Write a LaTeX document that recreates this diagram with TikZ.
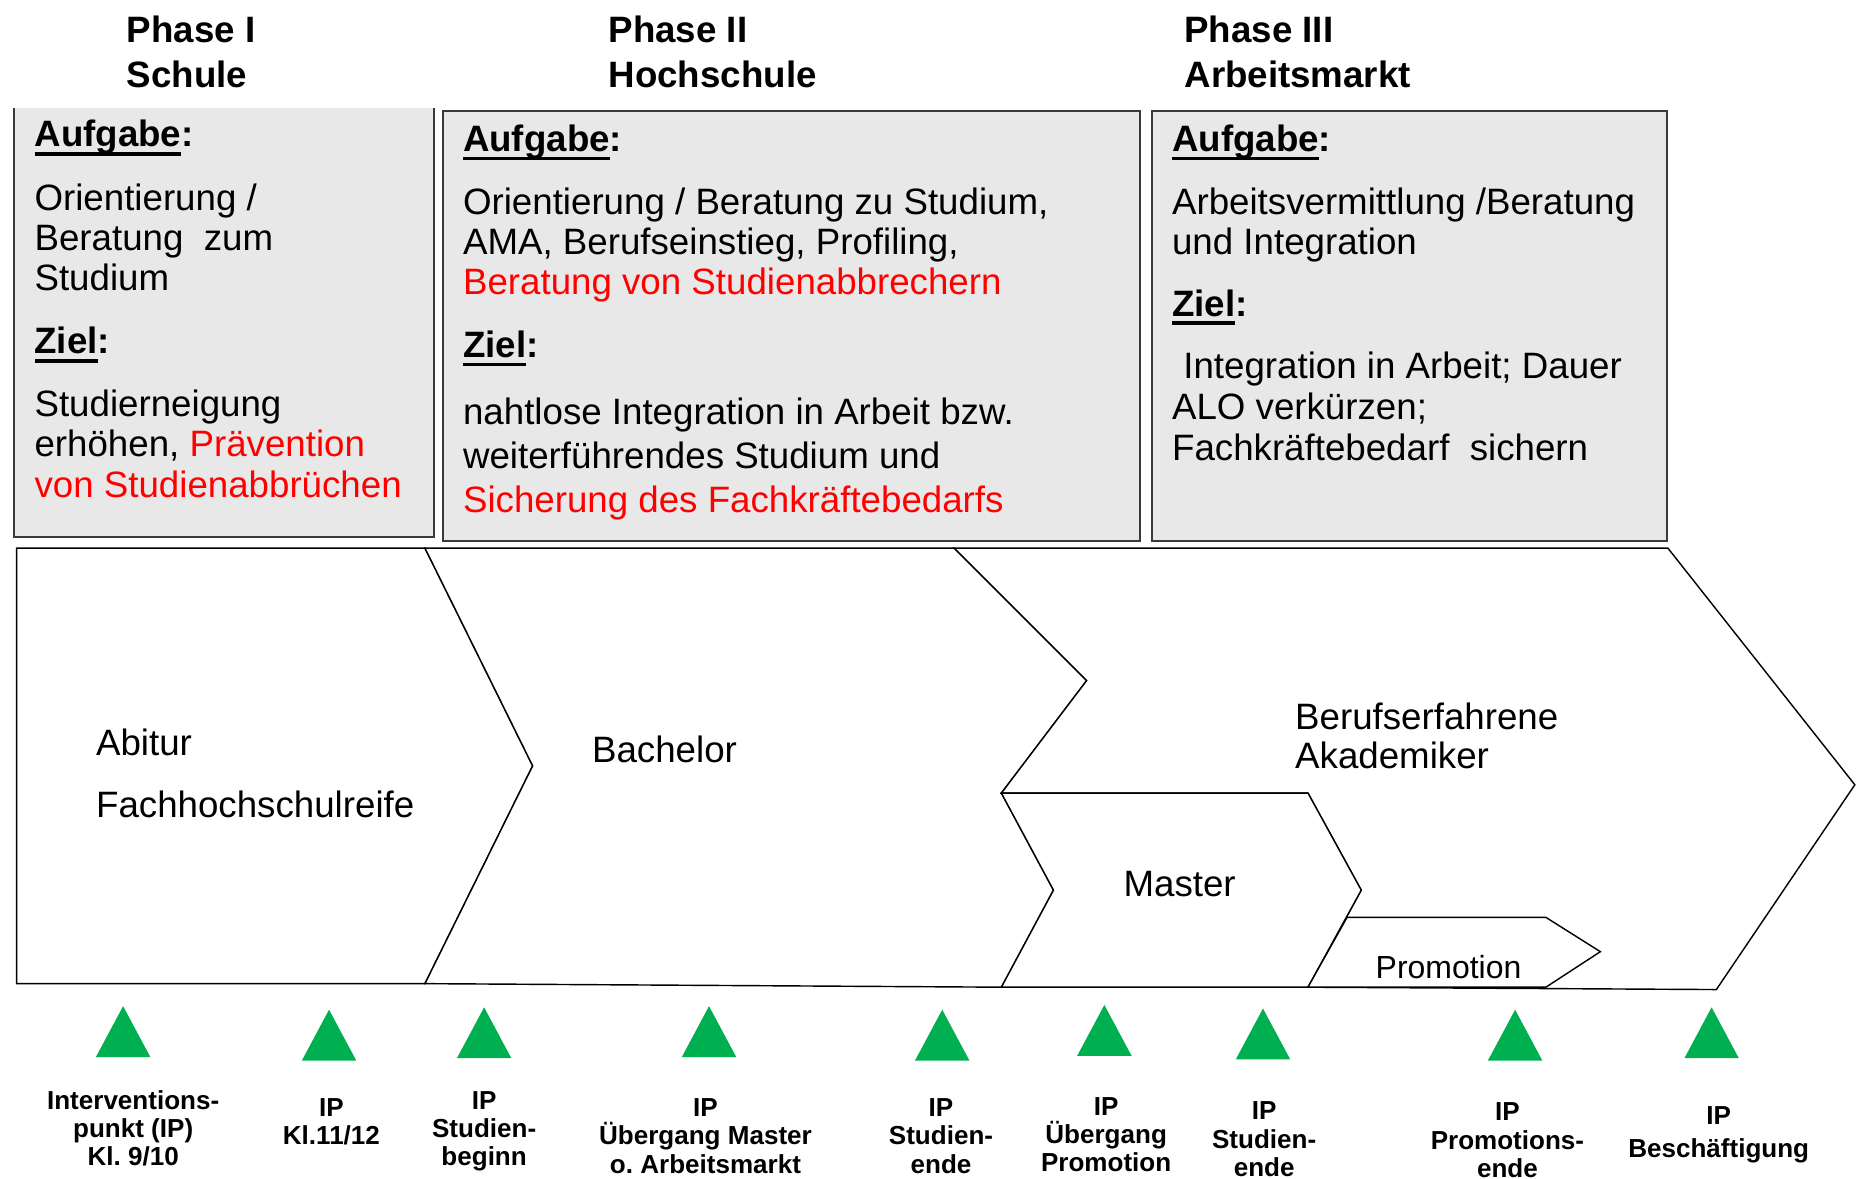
\documentclass[tikz,border=0pt]{standalone}
\usepackage{fontspec}
\setmainfont{Liberation Sans}
\frenchspacing
\definecolor{boxfill}{HTML}{E8E8E8}
\definecolor{boxline}{HTML}{3A3A3A}
\definecolor{ipgreen}{HTML}{00B050}
\definecolor{hired}{HTML}{FF0000}
\newcommand{\myul}[1]{\leavevmode\setbox0=\hbox{#1}\rlap{\vrule width\wd0 height -4.5pt depth 7.5pt}\box0}
\tikzset{
  phase/.style={font=\fontsize{31}{34}\selectfont\bfseries, anchor=base west, inner sep=0},
  txt/.style={font=\fontsize{31}{34}\selectfont, anchor=base west, inner sep=0},
  warn/.style={txt, text=hired},
  infobox/.style={fill=boxfill, draw=boxline, line width=1.8pt},
  chev/.style={fill=white, draw=black, line width=1.2pt, line join=miter},
  iptri/.style={fill=ipgreen},
  iplab/.style={font=\fontsize{22}{24}\selectfont\bfseries, anchor=base, inner sep=0},
}
\begin{document}
\begin{tikzpicture}[x=1pt,y=-1pt]
\useasboundingbox[fill=white] (0,0) rectangle (1568,996);

% headers
\node[phase] (p1a) at (107,36) {Phase I};
\node[phase] (p1b) at (107,74) {Schule};
\node[phase] (p2a) at (514,36) {Phase II};
\node[phase] (p2b) at (514,74) {Hochschule};
\node[phase] (p3a) at (1000.5,36) {Phase III};
\node[phase] (p3b) at (1000.5,74) {Arbeitsmarkt};

% info boxes
\fill[boxfill] (12,91) rectangle (366.5,454);
\draw[boxline, line width=1.8pt] (12,91) -- (12,454) -- (366.5,454) -- (366.5,91);
\draw[infobox] (374,93.5) rectangle (963,457);
\draw[infobox] (973,93.5) rectangle (1408,457);

% box 1
\node[txt] (b1a) at (29,124) {\bfseries\myul{Aufgabe}:};
\node[txt] (b1l1) at (29,178) {Orientierung /};
\node[txt] (b1l2) at (29,212) {Beratung\ \ zum};
\node[txt] (b1l3) at (29,245) {Studium};
\node[txt] (b1z) at (29,299) {\bfseries\myul{Ziel}:};
\node[txt] (b1m1) at (29,352) {Studierneigung};
\node[txt] (b1m2) at (29,386) {erhöhen, \textcolor{hired}{Prävention}};
\node[warn] (b1m3) at (29,420) {von Studienabbrüchen};

% box 2
\node[txt] (b2a) at (391,128) {\bfseries\myul{Aufgabe}:};
\node[txt] (b2l1) at (391,181) {Orientierung / Beratung zu Studium,};
\node[txt] (b2l2) at (391,215) {AMA, Berufseinstieg, Profiling,};
\node[warn] (b2l3) at (391,249) {Beratung von Studienabbrechern};
\node[txt] (b2z) at (391,302) {\bfseries\myul{Ziel}:};
\node[txt] (b2m1) at (391,359) {nahtlose Integration in Arbeit bzw.};
\node[txt] (b2m2) at (391,396) {weiterführendes Studium und};
\node[warn] (b2m3) at (391,433) {Sicherung des Fachkräftebedarfs};

% box 3
\node[txt] (b3a) at (990,128) {\bfseries\myul{Aufgabe}:};
\node[txt] (b3l1) at (990,181) {Arbeitsvermittlung /Beratung};
\node[txt] (b3l2) at (990,215) {und Integration};
\node[txt] (b3z) at (990,267) {\bfseries\myul{Ziel}:};
\node[txt] (b3m1) at (999.5,320) {Integration in Arbeit; Dauer};
\node[txt] (b3m2) at (990,354) {ALO verkürzen;};
\node[txt] (b3m3) at (990,389) {Fachkräftebedarf\ \ sichern};

% chevrons
\draw[chev] (14,463) -- (359,463) -- (450,647) -- (359,831) -- (14,831) -- cycle;
\draw[chev] (359,463) -- (806,463) -- (918,575) -- (846,670) -- (890,752) -- (846,834) -- (359,831) -- (450,647) -- cycle;
\draw[chev] (806,463) -- (1409,463) -- (1567,663) -- (1450,836) -- (1105,834) -- (1150,752) -- (1105,670) -- (846,670) -- (918,575) -- cycle;
\draw[chev] (846,670) -- (1105,670) -- (1150,752) -- (1105,834) -- (846,834) -- (890,752) -- cycle;
\draw[chev] (1138,775) -- (1306,775) -- (1352,804) -- (1306,834) -- (1105,834) -- cycle;

\node[txt] (abi) at (81,638) {Abitur};
\node[txt] (fhr) at (81,691) {Fachhochschulreife};
\node[txt] (bach) at (500,644) {Bachelor};
\node[txt] (bea) at (1094,616) {Berufserfahrene};
\node[txt] (beb) at (1094,649) {Akademiker};
\node[txt] (mast) at (949,757) {Master};
\node[txt, font=\fontsize{27}{30}\selectfont] (prom) at (1162,827) {Promotion};

% green markers
\foreach \x/\ay/\by in {104/850/893, 278/853/896, 409/851/894, 599/850/893, 796/853/896, 933/849/892, 1067/852/895, 1280/853/896, 1446/851/894}
  \fill[iptri] (\x-23,\by) -- (\x,\ay) -- (\x+23,\by) -- cycle;

% labels
\node[iplab] (l1a) at (112.5,937) {Interventions-};
\node[iplab] (l1b) at (112.5,961) {punkt (IP)};
\node[iplab] (l1c) at (112.5,985) {Kl. 9/10};
\node[iplab] (l2a) at (280,943) {IP};
\node[iplab] (l2b) at (280,967) {Kl.11/12};
\node[iplab] (l3a) at (409,937) {IP};
\node[iplab] (l3b) at (409,961) {Studien-};
\node[iplab] (l3c) at (409,985) {beginn};
\node[iplab] (l4a) at (596,943) {IP};
\node[iplab] (l4b) at (596,967) {Übergang Master};
\node[iplab] (l4c) at (596,991) {o. Arbeitsmarkt};
\node[iplab] (l5a) at (795,943) {IP};
\node[iplab] (l5b) at (795,967) {Studien-};
\node[iplab] (l5c) at (795,991) {ende};
\node[iplab] (l6a) at (934.5,942) {IP};
\node[iplab] (l6b) at (934.5,966) {Übergang};
\node[iplab] (l6c) at (934.5,990) {Promotion};
\node[iplab] (l7a) at (1068,946) {IP};
\node[iplab] (l7b) at (1068,970) {Studien-};
\node[iplab] (l7c) at (1068,994) {ende};
\node[iplab] (l8a) at (1273.5,947) {IP};
\node[iplab] (l8b) at (1273.5,971) {Promotions-};
\node[iplab] (l8c) at (1273.5,995) {ende};
\node[iplab] (l9a) at (1452,950) {IP};
\node[iplab] (l9b) at (1452,978) {Beschäftigung};
\end{tikzpicture}
\end{document}
